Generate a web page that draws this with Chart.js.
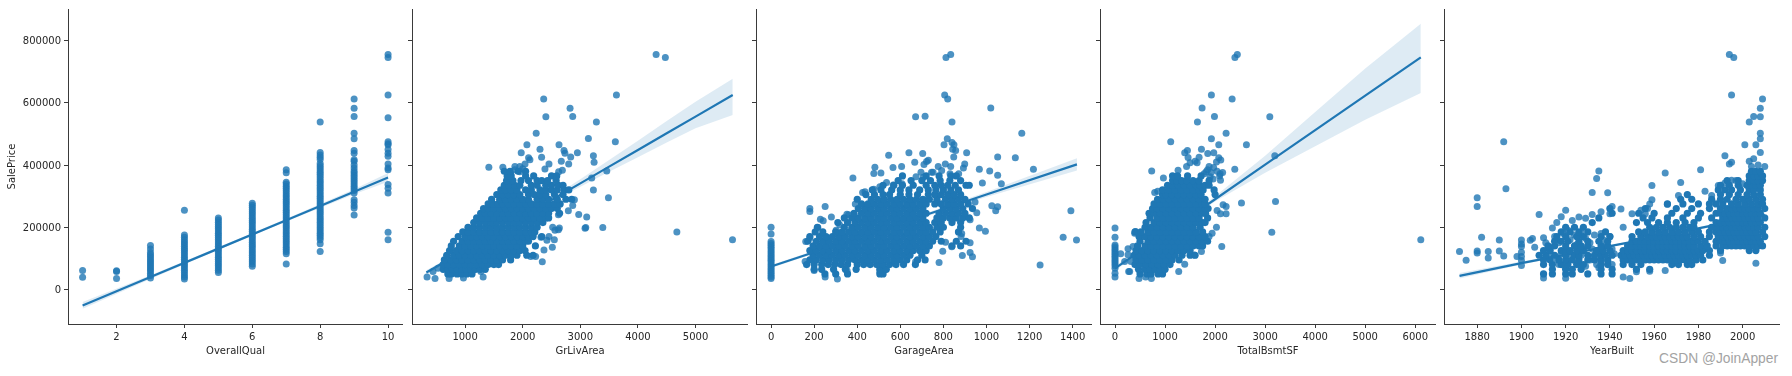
<!DOCTYPE html>
<html>
<head>
<meta charset="utf-8">
<title>SalePrice regression plots</title>
<script src="https://cdn.jsdelivr.net/npm/chart.js@4/dist/chart.umd.js"></script>
<style>
  html, body { margin: 0; background: #fff; overflow: hidden; }
  canvas { position: absolute; top: 0; }
  #mark { position: absolute; left: 1659px; top: 351px; color: #a3a3a3; font: 13.8px "Liberation Sans", sans-serif; white-space: nowrap; }
</style>
</head>
<body>
<div id="mark">CSDN @JoinApper</div>
<script>
// shared y axis
const priceTicks = [0, 200000, 400000, 600000, 800000];
const priceMin = -110800;
const priceMax = 901200;

// price levels the dense clouds were read at, one row per level
const priceBands = [50000, 65000, 80000, 95000, 110000, 125000, 140000, 155000, 170000, 185000, 200000, 215000, 230000, 245000, 260000, 275000, 290000, 305000, 320000, 335000, 350000, 365000, 380000];

// OverallQual: prices per quality column
const qualityLevels = [1, 2, 3, 4, 5, 6, 7, 8, 9, 10];
const qualityPrices = [
  [39300, 61000],
  [35000, 58000, 60000],
  [37000, 45000, 52000, 60000, 66000, 72000, 79000, 85000, 92000, 98000, 105000, 112000, 119000, 130000, 141000],
  [34000, 40000, 47000, 55000, 62000, 69000, 76000, 83000, 90000, 97000, 104000, 111000, 118000, 125000, 132000, 139000, 146000, 153000, 160000, 168000, 175000, 255000],
  [55000, 62000, 69000, 76000, 83000, 90000, 97000, 104000, 111000, 118000, 125000, 132000, 139000, 146000, 153000, 160000, 167000, 174000, 181000, 188000, 195000, 202000, 209000, 216000, 223000, 230000],
  [75000, 82000, 89000, 96000, 103000, 110000, 117000, 124000, 131000, 138000, 145000, 152000, 159000, 166000, 173000, 180000, 187000, 194000, 201000, 208000, 215000, 222000, 229000, 236000, 243000, 250000, 257000, 264000, 271000, 277000],
  [82000, 115000, 122000, 129000, 136000, 143000, 150000, 157000, 164000, 171000, 178000, 185000, 192000, 199000, 206000, 213000, 220000, 227000, 234000, 241000, 248000, 255000, 262000, 269000, 276000, 283000, 290000, 297000, 304000, 311000, 318000, 325000, 332000, 339000, 345000, 375000, 385000],
  [122000, 147000, 160000, 167000, 174000, 181000, 188000, 195000, 202000, 209000, 216000, 223000, 230000, 237000, 244000, 251000, 258000, 265000, 272000, 279000, 286000, 293000, 300000, 307000, 314000, 321000, 328000, 335000, 342000, 349000, 356000, 363000, 370000, 377000, 384000, 391000, 398000, 405000, 418000, 425000, 432000, 440000, 538000],
  [239000, 262000, 270000, 280000, 288000, 310000, 318000, 325000, 332000, 339000, 346000, 353000, 360000, 367000, 374000, 381000, 390000, 400000, 412000, 417000, 438000, 447000, 484000, 502000, 556000, 582000, 612000],
  [160000, 184000, 310000, 325000, 337000, 385000, 390000, 403000, 428000, 438000, 450000, 465000, 468000, 475000, 552000, 625000, 745000, 755000]
];

// GrLivArea
const grLivBands = [
  [700, 760, 860, 940, 1030, 1120],
  [620, 700, 780, 860, 940, 1020, 1100, 1180, 1260, 1350],
  [620, 700, 800, 900, 1000, 1100, 1200, 1300, 1400, 1500, 1580],
  [640, 750, 850, 950, 1050, 1150, 1250, 1350, 1450, 1550, 1650, 1790],
  [680, 800, 900, 1000, 1100, 1200, 1300, 1400, 1500, 1600, 1700, 1800, 1900, 2070, 2180],
  [730, 850, 950, 1050, 1150, 1250, 1350, 1450, 1550, 1650, 1750, 1850, 1950, 2040],
  [760, 900, 1000, 1100, 1200, 1300, 1400, 1500, 1600, 1700, 1800, 1900, 2000, 2220],
  [800, 950, 1050, 1150, 1250, 1350, 1450, 1550, 1650, 1750, 1850, 1950, 2050, 2100],
  [880, 1000, 1100, 1200, 1300, 1400, 1500, 1600, 1700, 1800, 1900, 2000, 2100, 2180, 2330],
  [960, 1050, 1150, 1250, 1350, 1450, 1550, 1650, 1750, 1850, 1950, 2050, 2150, 2210],
  [1050, 1150, 1250, 1350, 1450, 1550, 1650, 1750, 1850, 1950, 2050, 2150, 2250],
  [1150, 1250, 1350, 1450, 1550, 1650, 1750, 1850, 1950, 2050, 2150, 2250, 2350],
  [1200, 1300, 1400, 1500, 1600, 1700, 1800, 1900, 2000, 2100, 2200, 2300, 2400, 2450],
  [1270, 1350, 1450, 1550, 1650, 1750, 1850, 1950, 2050, 2150, 2250, 2350, 2450, 2640],
  [1320, 1400, 1500, 1600, 1700, 1800, 1900, 2000, 2100, 2200, 2300, 2400, 2500, 2600],
  [1400, 1480, 1570, 1650, 1750, 1850, 1950, 2050, 2150, 2250, 2350, 2450, 2550, 2650],
  [1460, 1600, 1700, 1800, 1900, 2000, 2100, 2250, 2350, 2450, 2600, 2750, 2850],
  [1550, 1650, 1750, 1850, 1950, 2100, 2200, 2300, 2400, 2550, 2700],
  [1620, 1700, 1800, 1900, 2050, 2150, 2300, 2400, 2500, 2600, 2720, 2800],
  [1680, 1760, 1860, 1950, 2150, 2250, 2400, 2500, 2620, 2700],
  [1720, 1830, 1970, 2100, 2250, 2330, 2430, 2580],
  [1730, 1800, 2050, 2190, 2500, 2590],
  [1680, 1780, 1920, 2050]
];
const grLivOutliers = [[5642, 160000], [4676, 184750], [3627, 625000], [2364, 612000], [2822, 582000], [2868, 556000], [2402, 555000], [3279, 538000], [2234, 502000], [3140, 485000], [3608, 475000], [2073, 465000], [2630, 465000], [2300, 451000], [2717, 447000], [2733, 438000], [1974, 439000], [2949, 439000], [2833, 426000], [3227, 430000], [2102, 423000], [2125, 417000], [2328, 425000], [2670, 412000], [3239, 409000], [2798, 403000], [2456, 403000], [1412, 393000], [1655, 393000], [1864, 395000], [1950, 395000], [2040, 403000], [2000, 388000], [2386, 387000], [2688, 383000], [2624, 378000], [3459, 381000], [3198, 358000], [2578, 363000], [3227, 320000], [3488, 295000], [2897, 288000], [2868, 270000], [2792, 253000], [2972, 241000], [3111, 233000], [2620, 240000], [3094, 199000], [3082, 197000], [3390, 199000], [2520, 200000], [2636, 198000], [2560, 190000], [2620, 192000], [2317, 168000], [2456, 170000], [2549, 160000], [2420, 158000], [2514, 136000], [2369, 127000], [2340, 89000], [2224, 106000], [2140, 106000], [339, 40000], [478, 35000], [722, 35000], [971, 37000], [1313, 40000], [1273, 58000], [443, 58000], [530, 68000], [4316, 755000], [4476, 745000], [1740, 373000], [1860, 385000], [1790, 372000], [1950, 378000]];

// GarageArea
const garageBands = [
  [250, 300, 355, 505, 520],
  [200, 235, 290, 345, 395, 505, 535],
  [165, 200, 235, 265, 295, 325, 355, 400, 430, 460, 490, 520, 550, 580, 615, 670],
  [180, 210, 240, 270, 300, 330, 360, 390, 420, 450, 480, 510, 540, 570, 600, 630, 680, 715],
  [195, 225, 255, 285, 315, 345, 375, 405, 435, 465, 495, 525, 555, 585, 615, 645, 700],
  [180, 210, 240, 270, 300, 330, 360, 390, 420, 450, 480, 510, 540, 570, 600, 630, 660, 690, 720],
  [195, 225, 255, 285, 315, 345, 375, 405, 435, 465, 495, 525, 555, 585, 615, 645, 675, 705, 735, 840, 880],
  [170, 210, 240, 270, 300, 330, 360, 390, 420, 450, 480, 510, 540, 570, 600, 630, 660, 690, 720, 750, 790, 860, 905],
  [180, 225, 255, 285, 315, 345, 375, 405, 435, 465, 495, 525, 555, 585, 615, 645, 675, 705, 735, 765],
  [205, 240, 300, 330, 360, 390, 420, 450, 480, 510, 540, 570, 600, 630, 660, 690, 720, 750, 785, 870],
  [215, 340, 375, 405, 435, 465, 495, 525, 555, 585, 615, 645, 675, 705, 735, 770, 800, 880],
  [310, 355, 390, 420, 450, 480, 510, 540, 570, 600, 630, 660, 690, 720, 760, 790, 840, 880],
  [340, 375, 405, 435, 465, 495, 525, 555, 585, 615, 645, 675, 705, 770, 800, 830, 860, 890, 920],
  [385, 420, 450, 480, 510, 540, 570, 600, 630, 660, 690, 720, 780, 810, 840, 870, 900],
  [405, 435, 465, 495, 525, 555, 585, 615, 645, 675, 705, 800, 830, 860, 890, 935],
  [420, 450, 480, 510, 540, 570, 600, 630, 660, 690, 720, 760, 790, 820, 850, 880, 915],
  [400, 465, 495, 525, 555, 585, 615, 645, 675, 705, 735, 770, 810, 840, 870, 900],
  [440, 480, 520, 550, 600, 640, 680, 730, 760, 790, 820, 850, 880],
  [470, 510, 560, 600, 640, 690, 730, 765, 800, 835, 870],
  [520, 570, 610, 660, 720, 760, 790, 820, 855, 905, 920],
  [590, 650, 700, 740, 785, 830, 880],
  [610, 720, 780, 835, 860],
  []
];
const garageOutliers = [[834, 755000], [812, 745000], [806, 625000], [820, 612000], [1020, 583000], [671, 555000], [715, 557000], [840, 538000], [1164, 502000], [818, 484000], [803, 465000], [840, 472000], [849, 465000], [843, 451000], [857, 447000], [848, 426000], [908, 439000], [1052, 426000], [1134, 423000], [1218, 386000], [967, 386000], [1015, 381000], [1052, 367000], [1069, 340000], [981, 342000], [546, 431000], [640, 439000], [704, 437000], [667, 409000], [606, 395000], [566, 392000], [482, 393000], [477, 373000], [510, 374000], [380, 358000], [722, 411000], [730, 415000], [710, 402000], [776, 395000], [809, 403000], [834, 395000], [899, 403000], [893, 390000], [792, 382000], [752, 377000], [745, 377000], [673, 362000], [696, 377000], [707, 361000], [831, 372000], [871, 372000], [1025, 269000], [1052, 266000], [1043, 253000], [947, 281000], [955, 247000], [967, 198000], [995, 187000], [924, 224000], [1392, 253000], [1356, 168000], [1418, 159000], [1249, 79000], [924, 150000], [924, 119000], [935, 105000], [888, 109000], [780, 87000], [671, 89000], [885, 180000], [882, 170000], [839, 137000], [810, 152000], [797, 123000], [251, 267000], [180, 260000], [180, 251000], [280, 233000], [229, 226000], [242, 221000], [318, 208000], [352, 242000], [360, 240000], [391, 275000], [436, 314000], [425, 312000], [477, 322000], [505, 330000], [536, 344000], [567, 336000], [608, 340000], [308, 34000], [251, 40000], [353, 60000], [505, 57000], [158, 90000], [200, 61000], [161, 154000], [180, 165000], [217, 199000], [302, 190000],
  [0, 200000], [0, 178000], [0, 154000], [0, 148000], [0, 142000], [0, 136000], [0, 130000], [0, 124000], [0, 118000], [0, 112000], [0, 106000], [0, 100000], [0, 94000], [0, 88000], [0, 82000], [0, 76000], [0, 70000], [0, 64000], [0, 58000], [0, 52000], [0, 46000], [0, 40000], [0, 35000]];

// TotalBsmtSF
const bsmtBands = [
  [500, 640, 720, 860, 950],
  [470, 600, 700, 800, 900, 1000],
  [400, 500, 620, 740, 860, 980, 1100],
  [420, 540, 660, 780, 900, 1020, 1140, 1280],
  [380, 480, 600, 720, 840, 960, 1080, 1200, 1340, 1500, 1600],
  [420, 540, 660, 780, 900, 1020, 1140, 1260, 1380, 1500],
  [450, 600, 720, 840, 960, 1080, 1200, 1320, 1440, 1560, 1680, 1750],
  [500, 660, 780, 900, 1020, 1140, 1260, 1380, 1500, 1620, 1740, 1850],
  [480, 600, 720, 840, 960, 1080, 1200, 1320, 1440, 1560, 1680, 1800],
  [400, 520, 660, 780, 900, 1020, 1140, 1260, 1380, 1500, 1620, 1750],
  [600, 720, 840, 960, 1080, 1200, 1320, 1440, 1560, 1700],
  [620, 780, 900, 1020, 1140, 1260, 1380, 1500, 1620, 1740, 1800],
  [700, 840, 960, 1080, 1200, 1320, 1440, 1560, 1680, 1850],
  [680, 780, 900, 1020, 1140, 1260, 1380, 1500, 1620, 1740, 1810],
  [750, 840, 960, 1080, 1200, 1320, 1440, 1560, 1680, 1800, 1860],
  [780, 900, 1020, 1140, 1260, 1380, 1500, 1620, 1740, 1800],
  [850, 960, 1080, 1200, 1320, 1440, 1560, 1680, 1800],
  [950, 1020, 1140, 1260, 1380, 1500, 1620, 1720, 2000],
  [950, 1080, 1200, 1320, 1440, 1560, 1680, 1760, 1980],
  [1050, 1150, 1260, 1380, 1500, 1620, 1700, 1800, 1880],
  [1150, 1230, 1330, 1430, 1560, 1680, 1880],
  [1150, 1250, 1450, 1720],
  []
];
const bsmtOutliers = [[6110, 160000], [2444, 755000], [2396, 745000], [1926, 625000], [2340, 612000], [1740, 583000], [1987, 556000], [3093, 555000], [1647, 538000], [2220, 502000], [1926, 484000], [1113, 475000], [2073, 465000], [2626, 465000], [1727, 451000], [1447, 447000], [1393, 439000], [1853, 437000], [1973, 439000], [3193, 430000], [1460, 424000], [1680, 425000], [2073, 423000], [2113, 416000], [2027, 410000], [1600, 412000], [1640, 407000], [1880, 395000], [1430, 395000], [1500, 407000], [2393, 386000], [733, 381000], [1260, 383000], [967, 358000], [1213, 362000], [2107, 351000], [853, 316000], [793, 312000], [2527, 278000], [3207, 283000], [2160, 272000], [2220, 267000], [2040, 254000], [2107, 243000], [2220, 243000], [3133, 184000], [2027, 200000], [1940, 181000], [1880, 170000], [2133, 138000], [1727, 122000], [1393, 81000], [1273, 58000], [1580, 111000], [273, 58000], [293, 58000], [480, 35000], [613, 40000], [727, 35000], [193, 90000], [113, 115000], [260, 131000], [260, 112000], [360, 138000], [393, 181000], [413, 186000], [320, 90000],
  [1780, 372000], [1850, 385000], [1920, 376000], [1970, 392000], [2040, 380000], [2100, 372000], [2150, 376000], [1900, 362000], [1960, 355000], [2090, 365000], [1820, 378000],
  [0, 198000], [0, 168000], [0, 143000], [0, 137000], [0, 131000], [0, 125000], [0, 119000], [0, 113000], [0, 107000], [0, 101000], [0, 95000], [0, 89000], [0, 83000], [0, 76000], [0, 68000], [0, 52000], [0, 40000]];

// YearBuilt
const yearBands = [
  [1910, 1914, 1920, 1923, 1930, 1936, 1941],
  [1914, 1920, 1923, 1927, 1936, 1941, 1952, 1958],
  [1910, 1914, 1918, 1921, 1925, 1928, 1936, 1939, 1946, 1950, 1954, 1968, 1971, 1975, 1977],
  [1910, 1913, 1917, 1920, 1923, 1926, 1930, 1933, 1936, 1939, 1946, 1948, 1950, 1952, 1954, 1956, 1958, 1960, 1962, 1964, 1966, 1968, 1970, 1972, 1974, 1976, 1979, 1982],
  [1908, 1911, 1915, 1920, 1924, 1926, 1930, 1933, 1936, 1938, 1941, 1945, 1947, 1949, 1951, 1953, 1955, 1957, 1959, 1961, 1963, 1965, 1967, 1969, 1971, 1973, 1975, 1977, 1979, 1981, 1985],
  [1910, 1913, 1918, 1920, 1922, 1925, 1928, 1934, 1937, 1940, 1946, 1948, 1950, 1952, 1954, 1956, 1958, 1960, 1962, 1964, 1966, 1968, 1970, 1972, 1974, 1976, 1978, 1980, 1982, 1985, 1990, 2003, 2006],
  [1912, 1915, 1920, 1924, 1927, 1930, 1936, 1939, 1948, 1950, 1952, 1954, 1956, 1958, 1960, 1962, 1964, 1966, 1968, 1970, 1972, 1974, 1976, 1978, 1981, 1984, 1988, 1991, 1993, 1995, 1997, 1999, 2001, 2003, 2005, 2007, 2009],
  [1915, 1918, 1921, 1926, 1930, 1935, 1939, 1950, 1952, 1954, 1956, 1958, 1960, 1962, 1964, 1966, 1968, 1970, 1972, 1974, 1976, 1978, 1980, 1983, 1988, 1990, 1992, 1994, 1996, 1998, 2000, 2002, 2004, 2006, 2008],
  [1916, 1920, 1925, 1928, 1936, 1940, 1950, 1954, 1957, 1959, 1961, 1963, 1965, 1967, 1969, 1971, 1973, 1975, 1978, 1981, 1985, 1989, 1991, 1993, 1995, 1997, 1999, 2001, 2003, 2005, 2007, 2010],
  [1918, 1922, 1926, 1930, 1938, 1953, 1956, 1959, 1962, 1965, 1968, 1971, 1974, 1977, 1980, 1985, 1988, 1990, 1992, 1994, 1996, 1998, 2000, 2002, 2004, 2006, 2009],
  [1920, 1924, 1928, 1958, 1961, 1964, 1967, 1970, 1973, 1976, 1978, 1986, 1989, 1991, 1993, 1995, 1997, 1999, 2001, 2003, 2005, 2007, 2010],
  [1932, 1952, 1957, 1962, 1966, 1970, 1974, 1978, 1988, 1990, 1992, 1994, 1996, 1998, 2000, 2002, 2004, 2006, 2008],
  [1935, 1955, 1959, 1966, 1973, 1980, 1986, 1991, 1993, 1995, 1997, 1999, 2001, 2003, 2005, 2007, 2010],
  [1941, 1953, 1960, 1968, 1975, 1981, 1988, 1990, 1992, 1994, 1996, 1998, 2000, 2002, 2004, 2006, 2008],
  [1940, 1956, 1970, 1977, 1985, 1990, 1993, 1995, 1997, 1999, 2001, 2003, 2005, 2007, 2010],
  [1966, 1973, 1980, 1985, 1988, 1991, 1995, 1998, 2001, 2004, 2007, 2009],
  [1972, 1977, 1986, 1990, 1993, 1997, 2000, 2003, 2006, 2009],
  [1975, 1990, 1994, 1998, 2002, 2005, 2008],
  [1989, 1992, 1995, 1999, 2003, 2005, 2008],
  [1990, 1994, 1998, 2002, 2004, 2006, 2008],
  [1993, 1998, 2003, 2005, 2007, 2009],
  [2003, 2005, 2007, 2009],
  [2004, 2006, 2008]
];
const yearOutliers = [[1994, 755000], [1996, 745000], [1995, 625000], [2009, 612000], [2008, 582000], [2005, 556000], [2008, 555000], [2003, 538000], [2008, 502000], [2008, 484000], [2001, 465000], [2006, 465000], [1992, 430000], [1892, 475000], [1893, 324000], [1880, 295000], [1880, 267000], [1882, 168000], [1890, 159000], [1872, 122000], [1875, 94000], [1880, 124000], [1880, 117000], [1885, 122000], [1885, 101000], [1890, 124000], [1892, 108000], [1898, 106000], [1900, 159000], [1900, 146000], [1900, 138000], [1900, 120000], [1900, 106000], [1900, 93000], [1900, 77000], [1904, 158000], [1905, 164000], [1906, 136000], [1908, 241000], [1910, 166000], [1910, 37000], [1914, 198000], [1916, 215000], [1918, 234000], [1920, 255000], [1920, 36000], [1923, 222000], [1926, 233000], [1929, 229000], [1932, 312000], [1932, 241000], [1934, 357000], [1935, 381000], [1936, 250000], [1939, 311000], [1940, 243000], [1941, 267000], [1945, 259000], [1946, 200000], [1946, 40000], [1949, 35000], [1950, 243000], [1952, 57000], [1958, 59000], [1959, 334000], [1959, 288000], [1965, 374000], [1965, 61000], [1966, 274000], [1972, 344000], [1971, 302000], [1981, 385000], [1983, 316000], [1986, 302000], [1989, 334000], [1990, 117000], [1991, 93000], [2006, 84000], [1954, 255000], [1956, 243000], [1957, 260000], [1958, 275000], [1994, 403000], [1995, 409000], [2003, 412000], [1992, 342000], [1995, 351000], [1997, 350000], [2000, 340000], [2005, 420000], [2008, 440000], [2010, 395000], [2007, 400000], [2004, 395000],
  [1911, 150000], [1913, 135000], [1915, 170000], [1917, 150000], [1919, 180000], [1921, 190000], [1922, 160000], [1924, 175000], [1925, 145000], [1927, 185000], [1929, 165000], [1931, 150000], [1933, 175000], [1934, 125000], [1936, 180000], [1937, 160000], [1938, 140000], [1940, 170000], [1941, 130000], [1942, 115000], [1918, 115000], [1922, 105000], [1927, 110000], [1931, 95000], [1916, 95000], [1934, 105000], [1912, 108000], [1928, 130000], [1932, 130000], [1937, 115000], [1925, 85000], [1920, 85000], [1920, 70000], [1929, 75000], [1934, 80000], [1917, 80000], [1939, 92000], [1935, 70000], [1941, 80000]];

// tick values per panel
const qualityTicks = [2, 4, 6, 8, 10];
const grLivTicks = [1000, 2000, 3000, 4000, 5000];
const garageTicks = [0, 200, 400, 600, 800, 1000, 1200, 1400];
const bsmtTicks = [0, 1000, 2000, 3000, 4000, 5000, 6000];
const yearTicks = [1880, 1900, 1920, 1940, 1960, 1980, 2000];

// fit lines and confidence bands
const qualityFitX = [1, 3, 5, 7, 9, 10];
const qualityFit = [-51400, 40000, 131400, 222800, 314000, 360000];
const qualityUpper = [-40000, 46000, 135500, 227000, 322000, 374000];
const qualityLower = [-62000, 34000, 127500, 218500, 306000, 346000];

const grLivFitX = [327, 1000, 1500, 2000, 2500, 3000, 3500, 4000, 4500, 5000, 5646];
const grLivFit = [54600, 126700, 180400, 234000, 287500, 341000, 394700, 448000, 502000, 555500, 625000];
const grLivUpper = [62000, 131000, 184000, 238000, 295000, 354000, 416000, 478000, 541000, 603000, 677000];
const grLivLower = [47000, 122000, 177000, 231000, 282000, 330000, 378000, 425000, 472000, 518000, 561000];

const garageFitX = [0, 500, 1000, 1420];
const garageFit = [74000, 189000, 305000, 402000];
const garageUpper = [79000, 193000, 313000, 422000];
const garageLower = [69000, 185000, 297000, 382000];

const bsmtFitX = [0, 1000, 2000, 3000, 4000, 5000, 6110];
const bsmtFit = [68000, 179000, 290000, 401000, 512000, 623000, 746000];
const bsmtUpper = [76000, 183000, 300000, 430000, 570000, 710000, 854000];
const bsmtLower = [60000, 176000, 283000, 375000, 460000, 545000, 631000];

const yearFitX = [1872, 1900, 1950, 2010];
const yearFit = [44000, 85000, 153000, 240000];
const yearUpper = [53000, 90000, 156000, 246000];
const yearLower = [35000, 80000, 150000, 234000];

const INK = '#262626';
const SPINE = '#3a3a3a';
const DOT = 'rgba(31,119,180,0.8)';
const BLUE = '#1f77b4';
const BAND = 'rgba(31,119,180,0.15)';
const FONT = { family: '"DejaVu Sans"', size: 10 };

const toXY = (xs, ys) => xs.map((x, i) => ({ x, y: ys[i] }));

function bandPoints(bands) {
  const cloud = [];
  bands.forEach((xs, i) => xs.forEach(x => cloud.push({ x, y: priceBands[i] })));
  return cloud;
}
const pairPoints = pairs => pairs.map(([x, y]) => ({ x, y }));

const qualityPoints = [];
qualityLevels.forEach((q, i) => qualityPrices[i].forEach(y => qualityPoints.push({ x: q, y })));

// core is the overlapped part of a cloud, where the dots add up to solid colour
const panels = [
  { title: 'OverallQual', left: 68, right: 403, axis: 68, xMin: 0.57, xMax: 10.44, ticks: qualityTicks, core: [], cloud: qualityPoints, fitX: qualityFitX, fit: qualityFit, upper: qualityUpper, lower: qualityLower, yTitle: 'SalePrice' },
  { title: 'GrLivArea', left: 412, right: 748, axis: 6, xMin: 78, xMax: 5911, ticks: grLivTicks, core: bandPoints(grLivBands), cloud: pairPoints(grLivOutliers), fitX: grLivFitX, fit: grLivFit, upper: grLivUpper, lower: grLivLower },
  { title: 'GarageArea', left: 756, right: 1092, axis: 6, xMin: -70, xMax: 1490, ticks: garageTicks, core: bandPoints(garageBands), cloud: pairPoints(garageOutliers), fitX: garageFitX, fit: garageFit, upper: garageUpper, lower: garageLower },
  { title: 'TotalBsmtSF', left: 1100, right: 1436, axis: 6, xMin: -300, xMax: 6414, ticks: bsmtTicks, core: bandPoints(bsmtBands), cloud: pairPoints(bsmtOutliers), fitX: bsmtFitX, fit: bsmtFit, upper: bsmtUpper, lower: bsmtLower },
  { title: 'YearBuilt', left: 1444, right: 1780, axis: 6, xMin: 1865, xMax: 2016.9, ticks: yearTicks, core: bandPoints(yearBands), cloud: pairPoints(yearOutliers), fitX: yearFitX, fit: yearFit, upper: yearUpper, lower: yearLower }
];

// chart.js reserves room for half a label, the plot area has to stay at the read-off box
const noScalePadding = s => {
  s.paddingLeft = s.paddingRight = s.paddingTop = s.paddingBottom = 0;
};

panels.forEach(p => {
  const canvas = document.createElement('canvas');
  canvas.style.left = p.left - p.axis + 'px';
  canvas.width = p.right - p.left + p.axis;
  canvas.height = 376;
  document.body.appendChild(canvas);

  new Chart(canvas.getContext('2d'), {
    type: 'scatter',
    data: {
      datasets: [
        { data: toXY(p.fitX, p.upper), showLine: true, pointRadius: 0, borderWidth: 0, fill: '+1', backgroundColor: BAND, order: 4 },
        { data: toXY(p.fitX, p.lower), showLine: true, pointRadius: 0, borderWidth: 0, order: 4 },
        { data: p.cloud, pointRadius: 3.5, pointBackgroundColor: DOT, pointBorderWidth: 0, order: 3 },
        { data: toXY(p.fitX, p.fit), showLine: true, pointRadius: 0, borderColor: BLUE, borderWidth: 2.2, order: 2 },
        { data: p.core, pointRadius: 3.6, pointBackgroundColor: BLUE, pointBorderWidth: 0, order: 1 }
      ]
    },
    options: {
      responsive: false,
      animation: false,
      layout: { autoPadding: false, padding: { top: 9, left: 0, right: 0, bottom: 0 } },
      plugins: { legend: { display: false }, tooltip: { enabled: false } },
      scales: {
        x: {
          type: 'linear',
          min: p.xMin,
          max: p.xMax,
          afterBuildTicks: s => { s.ticks = p.ticks.map(value => ({ value })); },
          afterFit: s => { s.height = 52; noScalePadding(s); },
          border: { color: SPINE, width: 1 },
          grid: { drawOnChartArea: false, tickLength: 4, tickColor: SPINE },
          ticks: { color: INK, font: FONT, padding: 3, maxRotation: 0, autoSkip: false, callback: v => String(v) },
          title: { display: true, text: p.title, color: INK, font: FONT, padding: { top: 4, bottom: 19 } }
        },
        y: {
          type: 'linear',
          min: priceMin,
          max: priceMax,
          afterBuildTicks: s => { s.ticks = priceTicks.map(value => ({ value })); },
          afterFit: s => { s.width = p.axis; noScalePadding(s); },
          border: { color: SPINE, width: 1 },
          grid: { drawOnChartArea: false, tickLength: 4, tickColor: SPINE },
          ticks: { display: !!p.yTitle, color: INK, font: FONT, padding: 3, labelOffset: 1, autoSkip: false, callback: v => String(v) },
          title: { display: !!p.yTitle, text: p.yTitle, color: INK, font: FONT, padding: { top: 6, bottom: 0 } }
        }
      }
    }
  });
});
</script>
</body>
</html>
